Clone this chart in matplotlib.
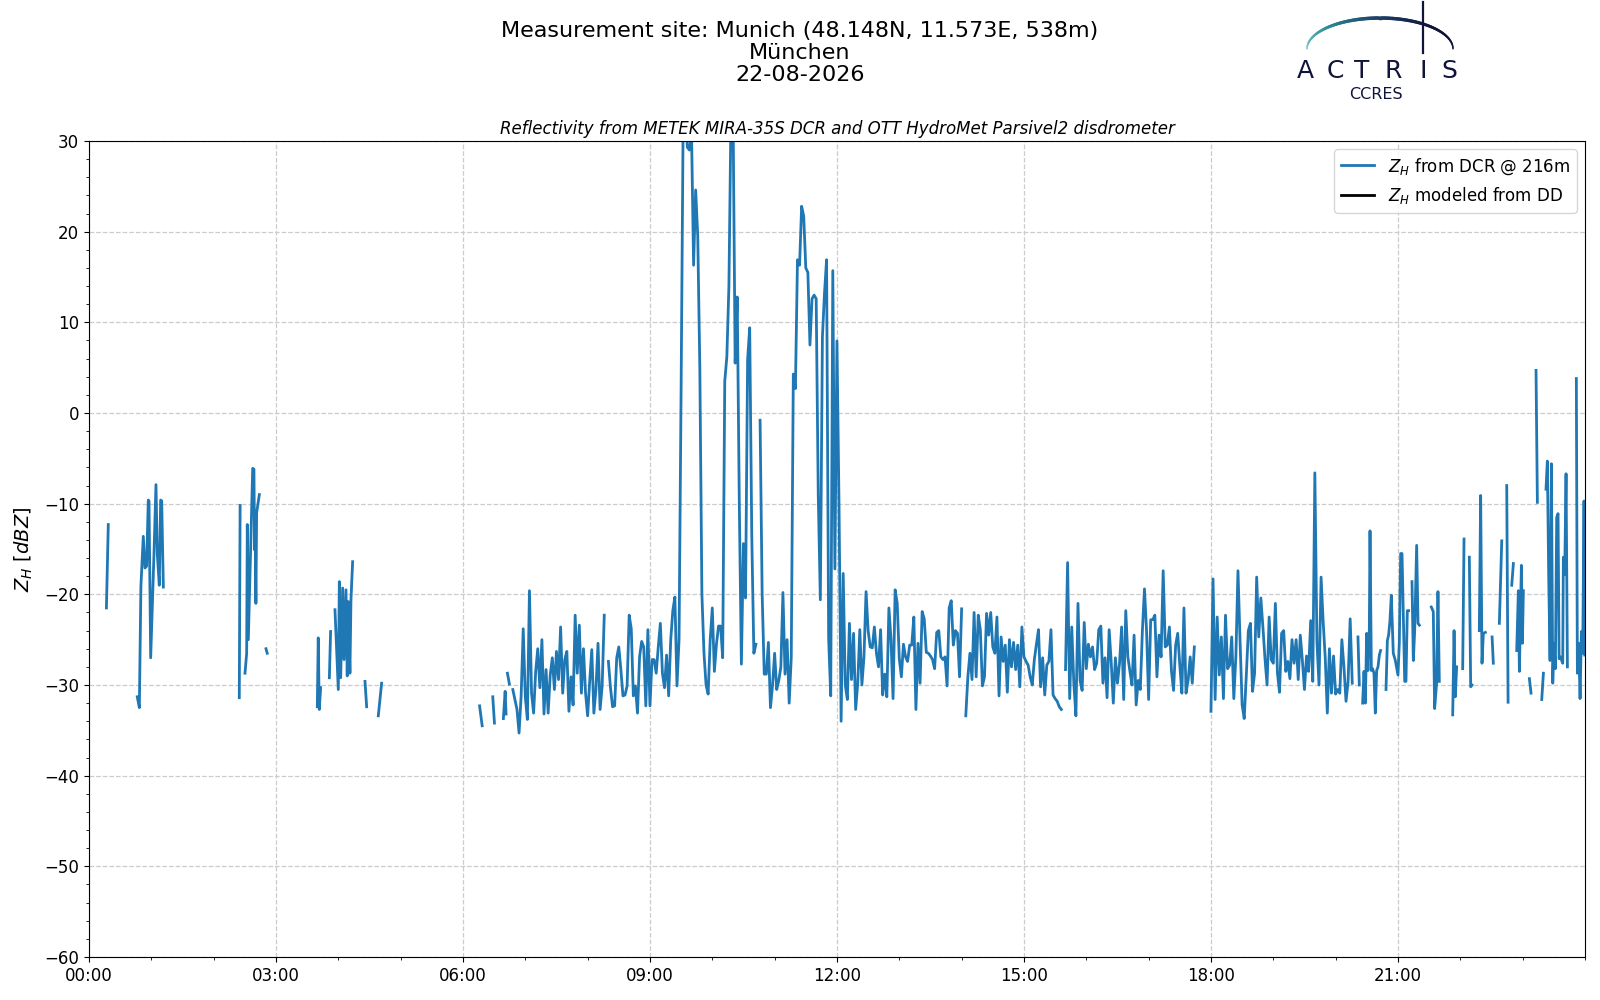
import numpy as np
import matplotlib
matplotlib.use('Agg')
import matplotlib.pyplot as plt
from matplotlib.collections import LineCollection
from matplotlib.colors import LinearSegmentedColormap
from matplotlib.ticker import MultipleLocator

nan = np.nan

# --- data: time in minutes after 00:00, reflectivity in dBZ ---
# sparse night / early morning echoes (nan = gap)
early_t = [16.8, 18.6, 30,
           46.5, 48.5, 50.0, 52.3, 53.9, 55.5, 57.1, 57.8, 59.4, 62.6, 64.5, 65.8, 67.7, 69.0, 70.0, 71.6, 100,
           144.7, 145.5, 148,
           150.2, 151.8, 152.4, 153.4, 157.6, 158.8, 159.4, 159.8, 160.7, 161.4, 164.0, 167,
           170.4, 171.6, 200,
           219.8, 220.7, 221.7, 223.0, 227,
           231.4, 232.6, 234,
           236.8, 240.0, 241.0, 242.3, 244.2, 245.5, 247.4, 248.6, 249.6, 251.2, 252.2, 253.8, 260,
           265.7, 267.3, 270,
           278.5, 281.7, 300,
           376.0, 378.5, 383,
           388.7, 390.3, 395,
           398.9, 400.6, 401.5, 402.1,
           402.8, 404.7, 406]
early_z = [-21.5, -12.3, nan,
           -31.3, -32.5, -19.1, -13.6, -17.1, -16.9, -9.6, -9.7, -27.0, -15.5, -7.9, -15.6, -19.0, -9.6, -9.7, -19.2, nan,
           -31.4, -10.2, nan,
           -28.7, -26.5, -12.3, -25.0, -6.1, -6.2, -15.1, -11.0, -21.0, -11.0, -9.0, nan,
           -26.0, -26.5, nan,
           -32.4, -24.8, -32.7, -30.3, nan,
           -29.2, -24.1, nan,
           -21.7, -30.5, -18.6, -29.2, -19.3, -27.2, -19.5, -29.0, -20.8, -28.7, -20.6, -16.4, nan,
           -29.6, -32.4, nan,
           -33.4, -29.8, nan,
           -32.3, -34.5, nan,
           -31.3, -34.2, nan,
           -33.7, -30.7, -33.2, nan,
           -28.7, -29.9, nan]

# continuous record, one value every 2 minutes
step = 2
start_a = 408
z_a = [-30.5, -31.6, -32.7, -35.3, -31.2, -23.8, -31.3, -33.8, -19.6, -30.9,
       -33.1, -28.5, -26.0, -30.3, -25.0, -33.2, -28.3, -33.1, -28.9, -27.0,
       -30.5, -26.3, -29.4, -23.6, -30.9, -27.2, -26.3, -32.9, -29.1, -32.2,
       -22.3, -28.7, -23.4, -30.9, -26.0, -30.9, -33.4, -29.6, -26.1, -33.1,
       -30.5, -25.4, -32.7, -30.1, -22.3, nan, -27.4, -30.3, -32.4, -32.3,
       -27.0, -25.8, -28.3, -31.2, -31.1, -30.1, -22.3, -23.8, -31.2, -30.1,
       -33.1, -26.9, -25.2, -25.8, -32.3, -23.9]
start_b = 540
z_b = [-32.3, -27.2, -27.2, -28.7, -25.8, -23.2, -28.7, -30.3, -26.7, -31.2,
       -25.0, -21.8, -20.3, -30.1, -25.0, 3.0, 33.0, 34.0, 29.3, 29.0,
       31.0, 16.3, 24.6, 19.5, 5.0, -20.0, -26.5, -30.0, -31.0, -25.0,
       -21.5, -28.5, -25.5, -23.5, -23.5, -27.0, 3.5, 6.2, 14.0, 33.0,
       33.0, 5.5, 12.8, -9.9, -27.7, -14.4, -20.4, 5.9, 9.4, -13.5,
       -26.5, -25.5, nan, -0.8, -20.0, -28.8, -28.8, -25.3, -32.5, -30.0,
       -26.5, -30.5, -29.5, -28.0, -19.8, -28.8, -25.0, -32.0, -27.0, 4.3,
       2.7, 16.9, 16.3, 22.8, 21.7, 16.0, 15.5, 7.5, 12.6, 13.0,
       12.6, -9.1, -20.6, 8.4, 13.2, 16.9, -24.9, -31.2, 15.7, -17.2]
start_c = 720
z_c = [7.95, -10.3, -34.0, -17.7, -30.0, -31.6, -23.2, -29.4, -24.3, -32.7,
       -29.8, -23.9, -30.0, -26.9, -19.7, -24.0, -25.8, -25.9, -23.6, -26.5,
       -28.0, -23.9, -31.1, -28.8, -31.3, -21.5, -24.9, -31.5, -19.5, -21.0,
       -27.1, -29.1, -25.5, -26.9, -27.4, -25.6, -25.6, -22.5, -32.7, -25.4,
       -29.8, -21.9, -22.7, -26.4, -26.5, -26.8, -27.2, -28.2, -24.2, -24.0,
       -26.9, -27.2, -26.9, -30.1, -21.5, -20.7, -25.6, -24.0, -24.3, -29.1,
       -21.6, nan, -33.4, -29.1, -26.5, -29.4, -22.0, -29.1, -22.3, -23.9,
       -30.1, -29.1, -22.1, -24.5, -22.0, -25.8, -26.5, -22.5, -31.2, -24.7,
       -27.4, -25.6, -30.8, -25.0, -28.0, -25.3, -28.3, -25.6, -30.2, -23.6]
start_d = 900
z_d = [-26.9, -27.4, -27.8, -29.1, -30.0, -27.2, -25.5, -23.9, -30.2, -27.0,
       -31.1, -27.8, -27.4, -23.9, -31.1, -31.5, -31.8, -32.4, -32.7, nan,
       -28.3, -16.5, -31.5, -23.6, -29.8, -33.4, -21.0, -29.5, -30.6, -23.1,
       -28.2, -25.5, -26.9, -25.8, -28.3, -27.6, -23.9, -23.5, -29.8, -27.0,
       -31.4, -23.9, -27.5, -32.0, -27.0, -29.8, -27.6, -23.6, -31.6, -21.8,
       -26.9, -28.5, -30.0, -24.5, -32.2, -29.5, -30.5, -24.0, -19.4, -24.0,
       -31.6, -22.8, -22.8, -22.3, -29.1, -24.5, -26.9, -17.4, -25.8, -25.6,
       -23.6, -28.5, -30.6, -25.6, -24.3, -27.8, -30.9, -21.5, -30.9, -29.5,
       -26.9, -29.8, -25.8, nan, nan, nan, nan, nan, nan, nan]
start_e = 1080
z_e = [-32.9, -18.3, -31.6, -22.5, -28.9, -24.7, -31.5, -22.3, -28.2, -27.8,
       -24.7, -31.5, -26.8, -17.4, -25.1, -32.2, -33.7, -29.0, -24.0, -23.2,
       -30.7, -28.7, -18.1, -24.7, -20.4, -23.6, -27.1, -30.0, -22.5, -27.2,
       -27.6, -21.0, -28.7, -30.8, -24.3, -24.0, -28.5, -27.4, -29.3, -25.0,
       -27.6, -25.0, -29.4, -24.5, -27.3, -30.5, -26.8, -28.5, -22.9, -29.6,
       -6.6, -25.2, -30.0, -18.1, -23.0, -27.0, -33.1, -26.0, -30.9, -26.8,
       -31.0, -30.5, -30.9, -25.0, -28.0, -31.8, -29.6, -22.7, -29.8]

# broken echoes in the evening
late_t = [1218,
          1221.5, 1222.8, 1224,
          1226.0, 1227.3, 1228.6, 1229.9, 1231.1, 1232.4, 1233.1, 1234.4, 1235.6, 1236.9, 1238.2, 1239.5, 1240.8, 1242.1, 1243.3, 1246,
          1248.5, 1249.8, 1251.0, 1252.3, 1253.6, 1255.5, 1257.5, 1260.0, 1261.3, 1262.6, 1263.9, 1266.5, 1267.7, 1269.0, 1270.3, 1272,
          1273.5, 1274.8, 1276.1, 1278.0, 1279.3, 1280.6, 1285,
          1292.1, 1294.0, 1295.3, 1297.2, 1298.5, 1299.8, 1305,
          1312.7, 1314.0, 1315.2, 1316.5, 1320,
          1322.3, 1323.6, 1326,
          1328.7, 1330.0, 1331.3, 1335,
          1338.3, 1339.6, 1340.9, 1342.2, 1344.1, 1347,
          1350.6, 1351.8, 1355,
          1357.6, 1359.9, 1362,
          1364.7, 1366.0, 1368,
          1369.5, 1371.1, 1373,
          1374.3, 1375.9, 1376.9, 1378.8, 1379.8, 1380.7, 1383,
          1386.5, 1388.1, 1390,
          1392.9, 1394.2, 1396,
          1398.4, 1400.0, 1401,
          1402.5, 1403.8, 1405.1, 1406.4, 1407.7, 1409.0, 1410.2, 1411.5, 1412.8, 1414.1, 1415.1, 1416.3, 1418.6, 1419.2, 1420.5, 1421.8, 1423.1, 1427,
          1431.7, 1432.7, 1434.0, 1435.3, 1436.6, 1437.8, 1439.1, 1439.8]
late_z = [nan,
          -24.7, -30.0, nan,
          -32.0, -28.5, -32.0, -24.3, -28.4, -24.3, -13.0, -28.4, -28.2, -28.7, -33.1, -28.4, -28.0, -26.7, -26.2, nan,
          -30.5, -25.1, -24.5, -22.9, -20.1, -26.5, -27.3, -28.9, -25.4, -15.5, -15.5, -29.6, -29.6, -21.8, -21.8, nan,
          -18.6, -27.3, -24.0, -14.6, -23.2, -23.4, nan,
          -21.4, -21.9, -32.6, -29.8, -19.7, -29.6, nan,
          -33.3, -24.0, -31.3, -28.0, nan,
          -28.2, -13.9, nan,
          -15.9, -30.2, -30.0, nan,
          -24.0, -9.1, -27.6, -24.3, -24.2, nan,
          -24.7, -27.6, nan,
          -23.2, -14.1, nan,
          -8.0, -31.9, nan,
          -19.0, -16.6, nan,
          -26.2, -19.6, -28.5, -16.8, -25.4, -19.6, nan,
          -29.3, -30.9, nan,
          4.7, -9.85, nan,
          -31.6, -28.7, nan,
          -8.4, -5.3, -18.0, -27.3, -5.6, -29.8, -25.4, -28.2, -11.5, -11.1, -27.1, -26.9, -27.6, -15.9, -17.8, -6.7, -28.0, nan,
          3.8, -28.7, -25.4, -31.5, -24.1, -26.5, -9.7, -26.7]

# modelled reflectivity from the disdrometer (only one tiny piece visible)
dd_t = [714.8, 715.6]
dd_z = [29.8, 29.8]

tick_labels = ['00:00', '03:00', '06:00', '09:00', '12:00', '15:00', '18:00', '21:00']

# --- assemble the DCR series ---
t_parts = [np.array(early_t)]
z_parts = [np.array(early_z)]
for st, zz in [(start_a, z_a), (start_b, z_b), (start_c, z_c), (start_d, z_d), (start_e, z_e)]:
    t_parts.append(st + step * np.arange(len(zz)))
    z_parts.append(np.array(zz))
t_parts.append(np.array(late_t))
z_parts.append(np.array(late_z))
dcr_t = np.concatenate(t_parts)
dcr_z = np.concatenate(z_parts)

fig = plt.figure(figsize=(16, 10), dpi=100)
ax = fig.add_axes([0.0556, 0.043, 0.935, 0.816])

ax.plot(dcr_t, dcr_z, color='#1f77b4', lw=2.0, label='$Z_H$ from DCR @ 216m')
ax.plot(dd_t, dd_z, color='black', lw=2, label='$Z_H$ modeled from DD')

ax.set_xlim(0, 1440)
ax.set_ylim(-60, 30)
ax.set_xticks(np.arange(len(tick_labels)) * 180)
ax.set_xticklabels(tick_labels)
ax.xaxis.set_minor_locator(MultipleLocator(60))
ax.yaxis.set_major_locator(MultipleLocator(10))
ax.yaxis.set_minor_locator(MultipleLocator(2))
ax.tick_params(labelsize=12)
ax.grid(True, which='major', ls='--', color='#cccccc', lw=0.9)
ax.set_ylabel('$Z_H\\ [dBZ]$', fontsize=14, labelpad=7)
ax.set_title('Reflectivity from METEK MIRA-35S DCR and OTT HydroMet Parsivel2 disdrometer',
             fontsize=12, style='italic', pad=5)
ax.legend(loc='upper right', fontsize=12)

fig.text(0.5, 0.979,
         'Measurement site: Munich (48.148N, 11.573E, 538m)\nMünchen\n22-08-2026',
         ha='center', va='top', fontsize=16, linespacing=1.13)

# --- ACTRIS / CCRES logo ---
navy = '#10133a'
th = np.linspace(np.pi, 0, 120)
ax_px = 1380 + 73 * np.cos(th)
ay_px = 49 - 31 * np.sin(th)
pts = np.column_stack([ax_px / 1600, 1 - ay_px / 1000])
segs = np.stack([pts[:-1], pts[1:]], axis=1)
cmap = LinearSegmentedColormap.from_list('actris', ['#7fd0c8', '#2c8a97', '#1d3f66', navy, navy])
frac = np.linspace(0, 1, len(segs))
lws = 0.5 + 2.0 * np.sin(np.pi * np.clip(frac * 0.85 + 0.08, 0, 1))
arc = LineCollection(segs, colors=cmap(frac), linewidths=lws, transform=fig.transFigure,
                     capstyle='round')
fig.add_artist(arc)
fig.add_artist(plt.Line2D([1423 / 1600, 1423 / 1600], [1 - 2 / 1000, 1 - 53 / 1000],
                          transform=fig.transFigure, color=navy, lw=1.6))
for letter, xpx in zip('ACTRIS', [1305, 1335, 1362, 1393, 1423, 1449]):
    fig.text(xpx / 1600, 1 - 78 / 1000, letter, ha='center', va='baseline',
             fontsize=18, color=navy, family='DejaVu Sans')
fig.text(1376 / 1600, 1 - 99 / 1000, 'CCRES', ha='center', va='baseline',
         fontsize=11.5, color=navy)

fig.savefig('out.png', dpi=100)
